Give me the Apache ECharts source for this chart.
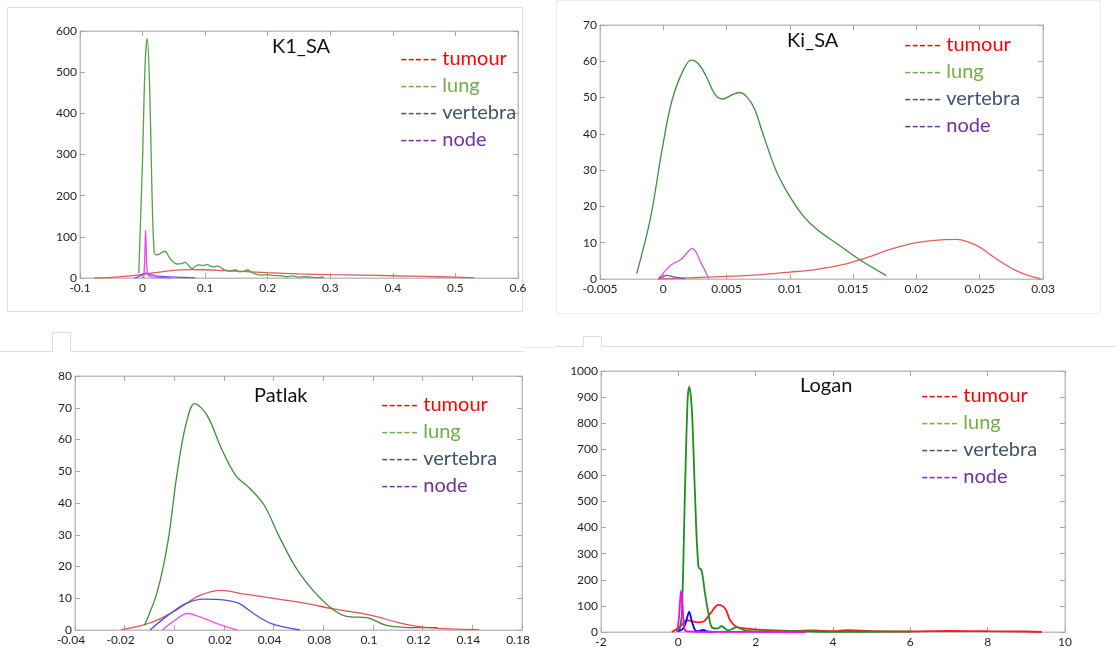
<!DOCTYPE html>
<html>
<head>
<meta charset="utf-8">
<script src="https://cdn.jsdelivr.net/npm/echarts@6/dist/echarts.min.js"></script>
<style>
  html, body { margin: 0; padding: 0; background: #ffffff; }
  #chart { width: 1115px; height: 651px; }
</style>
</head>
<body>
<div id="chart"></div>
<script>
// ---- names shared by all four panels ----
const seriesNames = ['tumour', 'lung', 'vertebra', 'node'];
const legendColors = ['#ff0000', '#70ad47', '#44546a', '#7030a0'];
const panelTitles = ['K1_SA', 'Ki_SA', 'Patlak', 'Logan'];

// ---- K1_SA ----
const k1XTicks = ['-0.1', '0', '0.1', '0.2', '0.3', '0.4', '0.5', '0.6'];
const k1YTicks = ['0', '100', '200', '300', '400', '500', '600'];
const k1Tumour = [[-0.077,0],[-0.05,1.5],[-0.02,5],[0,9],[0.03,15],[0.06,19.5],[0.08,20.5],[0.1,20],[0.13,18],[0.16,16],[0.2,13],[0.25,10],[0.3,8],[0.35,7],[0.4,5.5],[0.45,4],[0.5,2],[0.53,0.3]];
const k1Lung = [[-0.006,12],[-0.003,150],[0,290],[0.004,517],[0.0075,582],[0.0115,453],[0.015,210],[0.0185,64],[0.022,56],[0.027,58],[0.032,63],[0.036,65],[0.042,52],[0.048,40],[0.055,34],[0.062,35],[0.068,38],[0.074,30],[0.079,23],[0.084,28],[0.09,32],[0.097,30],[0.103,33],[0.109,28],[0.114,27],[0.12,29],[0.126,24],[0.132,19],[0.14,17],[0.148,20],[0.155,15],[0.162,16],[0.168,20],[0.173,15],[0.18,10],[0.19,7],[0.2,8],[0.21,6],[0.22,6],[0.23,3],[0.24,5],[0.25,2],[0.26,3],[0.27,2],[0.28,1],[0.29,3]];
const k1Vertebra = [[-0.013,0],[-0.005,4],[0,9],[0.006,11.5],[0.012,9],[0.02,6],[0.03,4],[0.045,2.5],[0.06,1.5],[0.075,0.8],[0.084,0]];
const k1Node = [[0.002,0],[0.0035,50],[0.0048,116],[0.0062,50],[0.008,10],[0.012,4],[0.02,2],[0.03,1],[0.045,0]];

// ---- Ki_SA ----
const kiXTicks = ['-0.005', '0', '0.005', '0.01', '0.015', '0.02', '0.025', '0.03'];
const kiYTicks = ['0', '10', '20', '30', '40', '50', '60', '70'];
const kiTumour = [[-0.0004,0],[0.002,0.3],[0.005,0.7],[0.008,1.3],[0.01,1.9],[0.012,2.6],[0.014,3.8],[0.016,5.8],[0.018,8.2],[0.02,10.0],[0.022,10.8],[0.0232,10.9],[0.024,10.3],[0.025,8.8],[0.026,6.3],[0.027,4.0],[0.028,2.1],[0.029,0.8],[0.0298,0.1]];
const kiLung = [[-0.0021,1.5],[-0.001,17],[-0.0001,35.6],[0.0007,49.4],[0.0016,57.7],[0.0022,60.3],[0.0028,59.2],[0.0034,55.8],[0.0041,50.8],[0.0047,49.6],[0.0054,50.7],[0.006,51.4],[0.0066,50.2],[0.0072,47],[0.0078,40.8],[0.0089,30],[0.01,22.7],[0.0111,17.2],[0.0122,13.5],[0.0137,9.8],[0.0154,5.6],[0.0176,1.0]];
const kiVertebra = [[-0.0004,0],[0.0003,1.0],[0.0008,0.6],[0.0017,0.1]];
const kiNode = [[-0.0004,0],[0.0006,3.8],[0.0014,5.4],[0.0023,8.4],[0.003,4.3],[0.0036,0.1]];

// ---- Patlak ----
const patXTicks = ['-0.04', '-0.02', '0', '0.02', '0.04', '0.08', '0.1', '0.12', '0.14', '0.18'];
const patYTicks = ['0', '10', '20', '30', '40', '50', '60', '70', '80'];
const patTumour = [[-0.0213,0.1],[-0.0127,1.5],[-0.0055,3.6],[0.0017,6.7],[0.0103,10.9],[0.019,12.5],[0.0276,11.4],[0.0405,9.9],[0.0535,8.3],[0.0635,6.7],[0.0794,4.6],[0.091,2.2],[0.1024,0.75],[0.1226,0.1]];
const patLung = [[-0.012,1.5],[-0.0069,12],[-0.0026,27.7],[0.001,48.7],[0.0046,64.5],[0.0082,71.3],[0.0132,67.6],[0.019,57.1],[0.0247,48.7],[0.0305,44.5],[0.0362,39.3],[0.042,29.8],[0.0492,19.3],[0.0564,12],[0.0635,6.7],[0.0693,4.3],[0.078,3.8],[0.0851,1.5],[0.0923,0.85],[0.106,0.75]];
const patVertebra = [[-0.0098,0],[-0.0026,4.6],[0.0046,8.3],[0.0118,9.7],[0.0204,9.4],[0.0262,8.3],[0.0319,5.2],[0.0391,2],[0.0506,0]];
const patNode = [[-0.0048,0],[0.0003,3.1],[0.0053,5.2],[0.0103,4.1],[0.019,1.5],[0.0254,0]];

// ---- Logan ----
const loganXTicks = ['-2', '0', '2', '4', '6', '8', '10'];
const loganYTicks = ['0', '100', '200', '300', '400', '500', '600', '700', '800', '900', '1000'];
const loganTumour = [[-0.17,0],[0.04,19],[0.22,45],[0.35,42],[0.5,37],[0.65,40],[0.86,77],[1.03,104],[1.21,90],[1.34,45],[1.51,19],[1.77,13],[2.3,7],[3,4],[3.5,6],[4,3],[4.36,7],[5,3],[6,2],[7,4],[8,3],[9,2],[9.4,0]];
const loganLung = [[0,4],[0.03,8],[0.09,70],[0.17,531],[0.24,889],[0.28,940],[0.35,850],[0.43,531],[0.52,249],[0.6,237],[0.69,147],[0.78,70],[0.86,19],[0.99,13],[1.12,22],[1.29,6],[1.51,19],[1.77,4],[2.2,2],[3,3],[4,1],[5,1],[6,1.5]];
const loganVertebra = [[-0.04,2],[0.12,12],[0.2,40],[0.28,77],[0.35,40],[0.43,8],[0.5,3],[0.65,8],[0.75,2],[0.9,0]];
const loganNode = [[-0.03,0],[0.02,60],[0.07,158],[0.11,100],[0.15,20],[0.2,3],[0.5,1],[1.5,0.5],[3.3,0]];

// ---- panel layout and styling ----
const FONT = 'Lato, "Open Sans", sans-serif';
const panels = [
  { title: panelTitles[0], xTicks: k1XTicks, yTicks: k1YTicks, xMin: -0.1, xStep: 0.1, yStep: 100,
    data: [k1Tumour, k1Lung, k1Vertebra, k1Node],
    colors: ['#e05a5a', '#58a048', '#5a5aee', '#ee44ee'], lineWidth: 1.3,
    grid: { left: 80, top: 31, width: 438, height: 247 },
    titlePos: { left: 272, top: 37 }, legendPos: { left: 395, top: 49 } },
  { title: panelTitles[1], xTicks: kiXTicks, yTicks: kiYTicks, xMin: -0.005, xStep: 0.005, yStep: 10,
    data: [kiTumour, kiLung, kiVertebra, kiNode],
    colors: ['#e06060', '#3c8f3c', '#5555dd', '#e055e0'], lineWidth: 1.3,
    grid: { left: 600, top: 25, width: 443, height: 254 },
    titlePos: { left: 787, top: 31 }, legendPos: { left: 899, top: 35 } },
  { title: panelTitles[2], xTicks: patXTicks, yTicks: patYTicks, xMin: -0.04, xStep: 0.02, yStep: 10,
    data: [patTumour, patLung, patVertebra, patNode],
    colors: ['#e05555', '#3a8f3a', '#5050e0', '#ee55ee'], lineWidth: 1.3,
    grid: { left: 75, top: 376, width: 447, height: 254 },
    titlePos: { left: 254, top: 386 }, legendPos: { left: 376, top: 395 }, xLabelShift: 8 },
  { title: panelTitles[3], xTicks: loganXTicks, yTicks: loganYTicks, xMin: -2, xStep: 2, yStep: 100,
    data: [loganTumour, loganLung, loganVertebra, loganNode],
    colors: ['#ff1a1a', '#1f8f1f', '#0000ff', '#ff00ff'], lineWidth: 1.8,
    grid: { left: 601, top: 371, width: 464, height: 261 },
    titlePos: { left: 800, top: 376 }, legendPos: { left: 916, top: 386 } }
];

const FRAME = '#bfbfbf';
const TICK = '#a6a6a6';
const LABEL = '#1e1e1e';

const tickLabel = (labels, min, step) => (v) => {
  const i = Math.round((v - min) / step);
  return labels[i] !== undefined ? labels[i] : '';
};

const option = {
  animation: false,
  backgroundColor: '#ffffff',
  grid: [], xAxis: [], yAxis: [], series: [], title: [], legend: [],
  graphic: []
};

panels.forEach((p, k) => {
  const xMax = p.xMin + p.xStep * (p.xTicks.length - 1);
  const yMax = p.yStep * (p.yTicks.length - 1);
  option.grid.push(Object.assign({ show: true, borderColor: FRAME, borderWidth: 1, backgroundColor: 'transparent' }, p.grid));

  const common = {
    type: 'value', gridIndex: k, splitLine: { show: false },
    axisLine: { show: true, onZero: false, lineStyle: { color: FRAME, width: 1 } },
    axisTick: { show: true, inside: true, length: 5, lineStyle: { color: TICK } }
  };
  // bottom / top x axes
  option.xAxis.push(Object.assign({}, common, {
    position: 'bottom', min: p.xMin, max: xMax, interval: p.xStep,
    axisLabel: { color: LABEL, fontFamily: FONT, fontSize: 12, margin: 4,
      padding: p.xLabelShift ? [0, p.xLabelShift, 0, 0] : 0,
      formatter: tickLabel(p.xTicks, p.xMin, p.xStep) }
  }));
  option.xAxis.push(Object.assign({}, common, {
    position: 'top', min: p.xMin, max: xMax, interval: p.xStep, axisLabel: { show: false }
  }));
  // left / right y axes
  option.yAxis.push(Object.assign({}, common, {
    position: 'left', min: 0, max: yMax, interval: p.yStep,
    axisLabel: { color: LABEL, fontFamily: FONT, fontSize: 12, margin: 3,
      formatter: tickLabel(p.yTicks, 0, p.yStep) }
  }));
  option.yAxis.push(Object.assign({}, common, {
    position: 'right', min: 0, max: yMax, interval: p.yStep, axisLabel: { show: false }
  }));

  seriesNames.forEach((name, s) => {
    option.series.push({
      type: 'line', name: name, xAxisIndex: 2 * k, yAxisIndex: 2 * k,
      data: p.data[s], symbol: 'none', showSymbol: false, smooth: 0.35,
      lineStyle: { color: p.colors[s], width: p.lineWidth },
      itemStyle: { color: p.colors[s] }, silent: true, z: 2 + s
    });
  });

  option.title.push({
    text: p.title, left: p.titlePos.left, top: p.titlePos.top, padding: 0,
    textStyle: { fontFamily: FONT, fontSize: 20, fontWeight: 'normal', color: '#111111' }
  });

  option.legend.push({
    orient: 'vertical', left: p.legendPos.left, top: p.legendPos.top, padding: 0,
    itemGap: 7, itemWidth: 0, itemHeight: 0, icon: 'rect', selectedMode: false,
    itemStyle: { opacity: 0 }, lineStyle: { opacity: 0 },
    formatter: (n) => '----- ' + n,
    textStyle: { fontFamily: FONT, fontSize: 20 },
    data: seriesNames.map((n, i) => ({ name: n, textStyle: { color: legendColors[i] } }))
  });
});

// faint panel outlines around the four figures
const OUT = '#dcdcdc';
option.graphic = [
  { type: 'rect', shape: { x: 7.5, y: 7.5, width: 515, height: 304 }, style: { fill: 'none', stroke: OUT, lineWidth: 1 }, silent: true },
  { type: 'rect', shape: { x: 556.5, y: 0.5, width: 544, height: 313 }, style: { fill: 'none', stroke: '#ececec', lineWidth: 1 }, silent: true },
  { type: 'polyline', shape: { points: [[0, 351.5], [52.5, 351.5], [52.5, 332.5], [70.5, 332.5], [70.5, 351.5], [523, 351.5]] }, style: { fill: 'none', stroke: OUT, lineWidth: 1 }, silent: true },
  { type: 'polyline', shape: { points: [[523, 347.5], [555, 347.5]] }, style: { fill: 'none', stroke: '#ececec', lineWidth: 1 }, silent: true },
  { type: 'polyline', shape: { points: [[555, 346.5], [583.5, 346.5], [583.5, 336.5], [601.5, 336.5], [601.5, 346.5], [1115, 346.5]] }, style: { fill: 'none', stroke: OUT, lineWidth: 1 }, silent: true }
];

const chart = echarts.init(document.getElementById('chart'), null, { renderer: 'canvas' });
chart.setOption(option);
</script>
</body>
</html>
